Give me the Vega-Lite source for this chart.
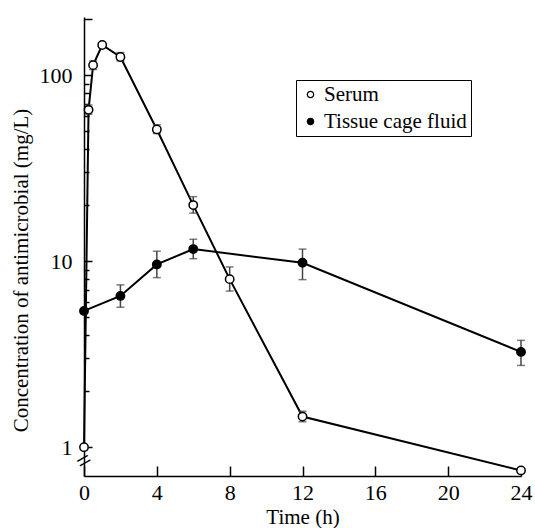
{
  "$schema": "https://vega.github.io/schema/vega-lite/v6.json",
  "width": 437,
  "height": 459,
  "autosize": {"type": "none"},
  "padding": {"left": 84, "top": 17, "right": 14, "bottom": 52},
  "background": "white",
  "config": {
    "view": {"stroke": null},
    "font": "Liberation Serif",
    "axis": {
      "grid": false,
      "domainColor": "black",
      "domainWidth": 1.5,
      "tickColor": "black",
      "tickWidth": 1.5,
      "labelFont": "Liberation Serif",
      "labelFontSize": 22,
      "labelColor": "black",
      "labelOverlap": false,
      "titleFont": "Liberation Serif",
      "titleFontSize": 21,
      "titleFontWeight": "normal",
      "titleColor": "black"
    }
  },
  "datasets": {
    "pk": [
      {"series": "Serum", "time": 0, "conc": 1.0, "lo": null, "hi": null},
      {"series": "Serum", "time": 0.25, "conc": 65, "lo": 61.5, "hi": 69},
      {"series": "Serum", "time": 0.5, "conc": 113, "lo": 107, "hi": 119},
      {"series": "Serum", "time": 1, "conc": 145, "lo": 141, "hi": 149},
      {"series": "Serum", "time": 2, "conc": 125, "lo": 119, "hi": 132},
      {"series": "Serum", "time": 4, "conc": 51, "lo": 48.5, "hi": 54},
      {"series": "Serum", "time": 6, "conc": 20, "lo": 18.1, "hi": 22.2},
      {"series": "Serum", "time": 8, "conc": 8.0, "lo": 6.9, "hi": 9.3},
      {"series": "Serum", "time": 12, "conc": 1.46, "lo": 1.37, "hi": 1.56},
      {"series": "Serum", "time": 24, "conc": 0.75, "lo": null, "hi": null},
      {"series": "Tissue cage fluid", "time": 0, "conc": 5.4, "lo": null, "hi": null},
      {"series": "Tissue cage fluid", "time": 2, "conc": 6.5, "lo": 5.65, "hi": 7.45},
      {"series": "Tissue cage fluid", "time": 4, "conc": 9.6, "lo": 8.15, "hi": 11.3},
      {"series": "Tissue cage fluid", "time": 6, "conc": 11.6, "lo": 10.3, "hi": 13.1},
      {"series": "Tissue cage fluid", "time": 12, "conc": 9.8, "lo": 7.95, "hi": 11.6},
      {"series": "Tissue cage fluid", "time": 24, "conc": 3.25, "lo": 2.75, "hi": 3.75}
    ]
  },
  "data": {"name": "pk"},
  "layer": [
    {
      "mark": {"type": "line", "color": "black", "strokeWidth": 2},
      "encoding": {
        "x": {
          "field": "time", "type": "quantitative",
          "scale": {"domain": [0, 24], "nice": false, "zero": false},
          "axis": {
            "title": "Time (h)",
            "values": [0,1,2,3,4,5,6,7,8,9,10,11,12,13,14,15,16,17,18,19,20,21,22,23,24],
            "labelExpr": "datum.value % 4 === 0 ? datum.label : ''",
            "tickSize": {"condition": {"test": "datum.value % 2 === 0", "value": -10}, "value": -5},
            "labelPadding": 16,
            "labelFlush": false,
            "titlePadding": 3
          }
        },
        "y": {
          "field": "conc", "type": "quantitative",
          "scale": {"type": "log", "domain": [0.7, 205], "nice": false},
          "axis": {
            "title": "Concentration of antimicrobial (mg/L)",
            "values": [1,2,3,4,5,6,7,8,9,10,20,30,40,50,60,70,80,90,100,200],
            "labelExpr": "(datum.value == 1 || datum.value == 10 || datum.value == 100) ? datum.value + '' : ''",
            "tickSize": {"condition": {"test": "datum.value == 1 || datum.value == 10 || datum.value == 100 || datum.value == 200", "value": -8}, "value": -5},
            "labelPadding": 20,
            "titlePadding": 8,
            "titleY": 253
          }
        },
        "detail": {"field": "series"}
      }
    },
    {
      "mark": {"type": "rule", "color": "#444", "strokeWidth": 1.5},
      "encoding": {
        "x": {"field": "time", "type": "quantitative"},
        "y": {"field": "lo", "type": "quantitative"},
        "y2": {"field": "hi"}
      }
    },
    {
      "mark": {"type": "tick", "color": "#444", "orient": "horizontal", "size": 8, "thickness": 1.5},
      "encoding": {
        "x": {"field": "time", "type": "quantitative"},
        "y": {"field": "lo", "type": "quantitative"}
      }
    },
    {
      "mark": {"type": "tick", "color": "#444", "orient": "horizontal", "size": 8, "thickness": 1.5},
      "encoding": {
        "x": {"field": "time", "type": "quantitative"},
        "y": {"field": "hi", "type": "quantitative"}
      }
    },
    {
      "mark": {"type": "point", "shape": "circle", "filled": true, "stroke": "black", "strokeWidth": 1.5, "opacity": 1, "size": 70},
      "encoding": {
        "x": {"field": "time", "type": "quantitative"},
        "y": {"field": "conc", "type": "quantitative"},
        "fill": {
          "field": "series", "type": "nominal",
          "scale": {"domain": ["Serum", "Tissue cage fluid"], "range": ["white", "black"]},
          "legend": {
            "title": null,
            "orient": "none",
            "legendX": 212,
            "legendY": 63,
            "strokeColor": "black",
            "fillColor": "white",
            "padding": 4,
            "labelFont": "Liberation Serif",
            "labelFontSize": 21,
            "labelColor": "black",
            "symbolType": "circle",
            "symbolSize": 40,
            "symbolOffset": 0,
            "symbolStrokeColor": "black",
            "symbolStrokeWidth": 1.2,
            "rowPadding": 5,
            "labelOffset": 3
          }
        }
      }
    },
    {
      "data": {"values": [{"t": "="}]},
      "mark": {"type": "text", "fontSize": 26, "angle": -30, "color": "black", "font": "Liberation Serif"},
      "encoding": {
        "x": {"datum": 0},
        "y": {"datum": 0.84},
        "text": {"field": "t"}
      }
    }
  ]
}
